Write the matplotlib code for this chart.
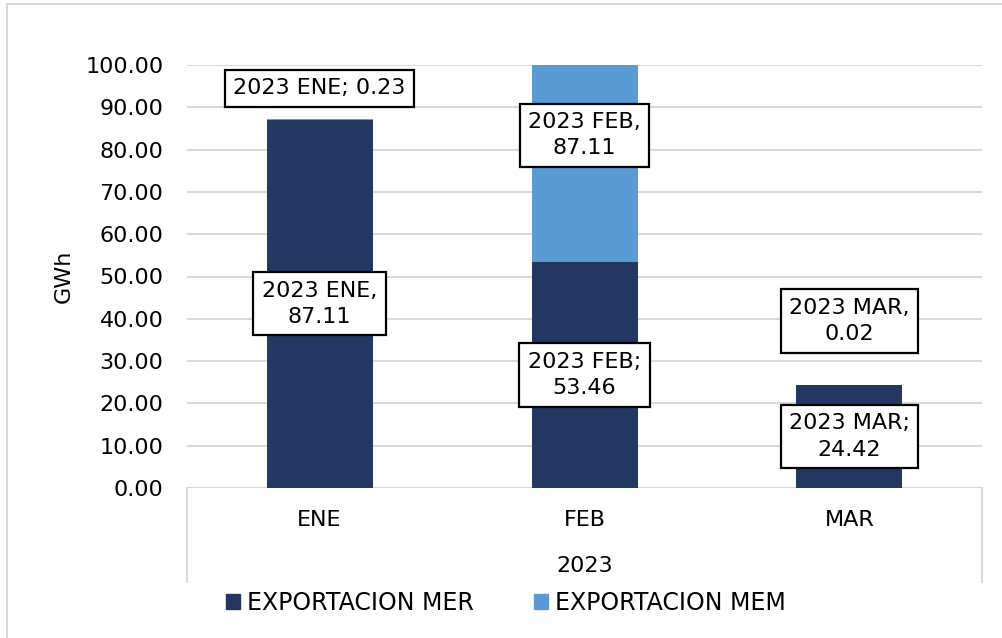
import matplotlib
matplotlib.use("Agg")
import matplotlib.pyplot as plt
from matplotlib.patches import Patch
from matplotlib.lines import Line2D
import numpy as np

# data
months = ["ENE", "FEB", "MAR"]
year = "2023"
mer = [87.11, 53.46, 24.42]
mem = [0.23, 87.11, 0.02]
mer_sep = [",", ";", ";"]
mem_sep = ["; ", ",\n", ",\n"]
mem_label_y = [94.5, 83.4, 39.5]  # where Excel put the MEM labels

c_mer = "#223862"
c_mem = "#5b9bd5"
grid_c = "#d9d9d9"

plt.rcParams['font.family'] = ['DejaVu Sans']
fs = 16

fig = plt.figure(figsize=(10.02, 6.38), dpi=100)
ax = fig.add_axes([187/1002, 1-488/638, 795/1002, 423/638])

x = np.arange(len(months))
ax.bar(x, mer, width=0.4, color=c_mer, zorder=2)
ax.bar(x, mem, width=0.4, bottom=mer, color=c_mem, zorder=2)

ax.set_xlim(-0.5, len(months) - 0.5)
ax.set_ylim(0, 100)
ax.set_yticks(np.arange(0, 101, 10))
ax.set_yticklabels(["{:.2f}".format(v) for v in np.arange(0, 101, 10)], fontsize=fs)
ax.tick_params(axis='y', length=0, pad=17)
ax.tick_params(axis='x', length=0, labelbottom=False)
ax.yaxis.grid(True, color=grid_c, linewidth=1.5, zorder=0)
ax.set_axisbelow(True)
for s in ax.spines.values():
    s.set_visible(False)
ax.axhline(0, color=grid_c, linewidth=1.5, zorder=1)
ax.set_ylabel("GWh", fontsize=fs, labelpad=8)

# two-level category axis
sep_depth = (582 - 488) / 423
for xx in [0, 1]:
    ax.plot([xx, xx], [0, -sep_depth], transform=ax.transAxes, color=grid_c,
            linewidth=1.5, clip_on=False)
for i, m in enumerate(months):
    ax.text(i, -32/423*100, m, ha='center', va='center', fontsize=fs)
ax.text(0.5, -(566-488)/423, year, transform=ax.transAxes, ha='center',
        va='center', fontsize=fs)

# data labels
box = dict(boxstyle='square,pad=0.38', facecolor='white', edgecolor='black', linewidth=1.6)
for i, m in enumerate(months):
    ax.text(i, mer[i] / 2, "{} {}{}\n{:.2f}".format(year, m, mer_sep[i], mer[i]),
            ha='center', va='center', fontsize=fs, bbox=box, zorder=5,
            multialignment='center', linespacing=1.4)
    ax.text(i, mem_label_y[i], "{} {}{}{:.2f}".format(year, m, mem_sep[i], mem[i]),
            ha='center', va='center', fontsize=fs, bbox=box, zorder=5,
            multialignment='center', linespacing=1.4, clip_on=False)

# legend
handles = [Patch(color=c_mer), Patch(color=c_mem)]
fig.legend(handles, ["EXPORTACION MER", "EXPORTACION MEM"], loc='center left',
           bbox_to_anchor=(214/1002, 1-603/638), ncol=2, frameon=False,
           fontsize=17, handlelength=0.6, handleheight=0.6, handletextpad=0.3,
           columnspacing=2.55, borderpad=0)

# chart border (left and top visible)
fig.add_artist(Line2D([7/1002, 7/1002], [0, 1-4/638], color=grid_c, linewidth=1.5))
fig.add_artist(Line2D([7/1002, 1], [1-4/638, 1-4/638], color=grid_c, linewidth=1.5))

fig.savefig("out.png", dpi=100)
